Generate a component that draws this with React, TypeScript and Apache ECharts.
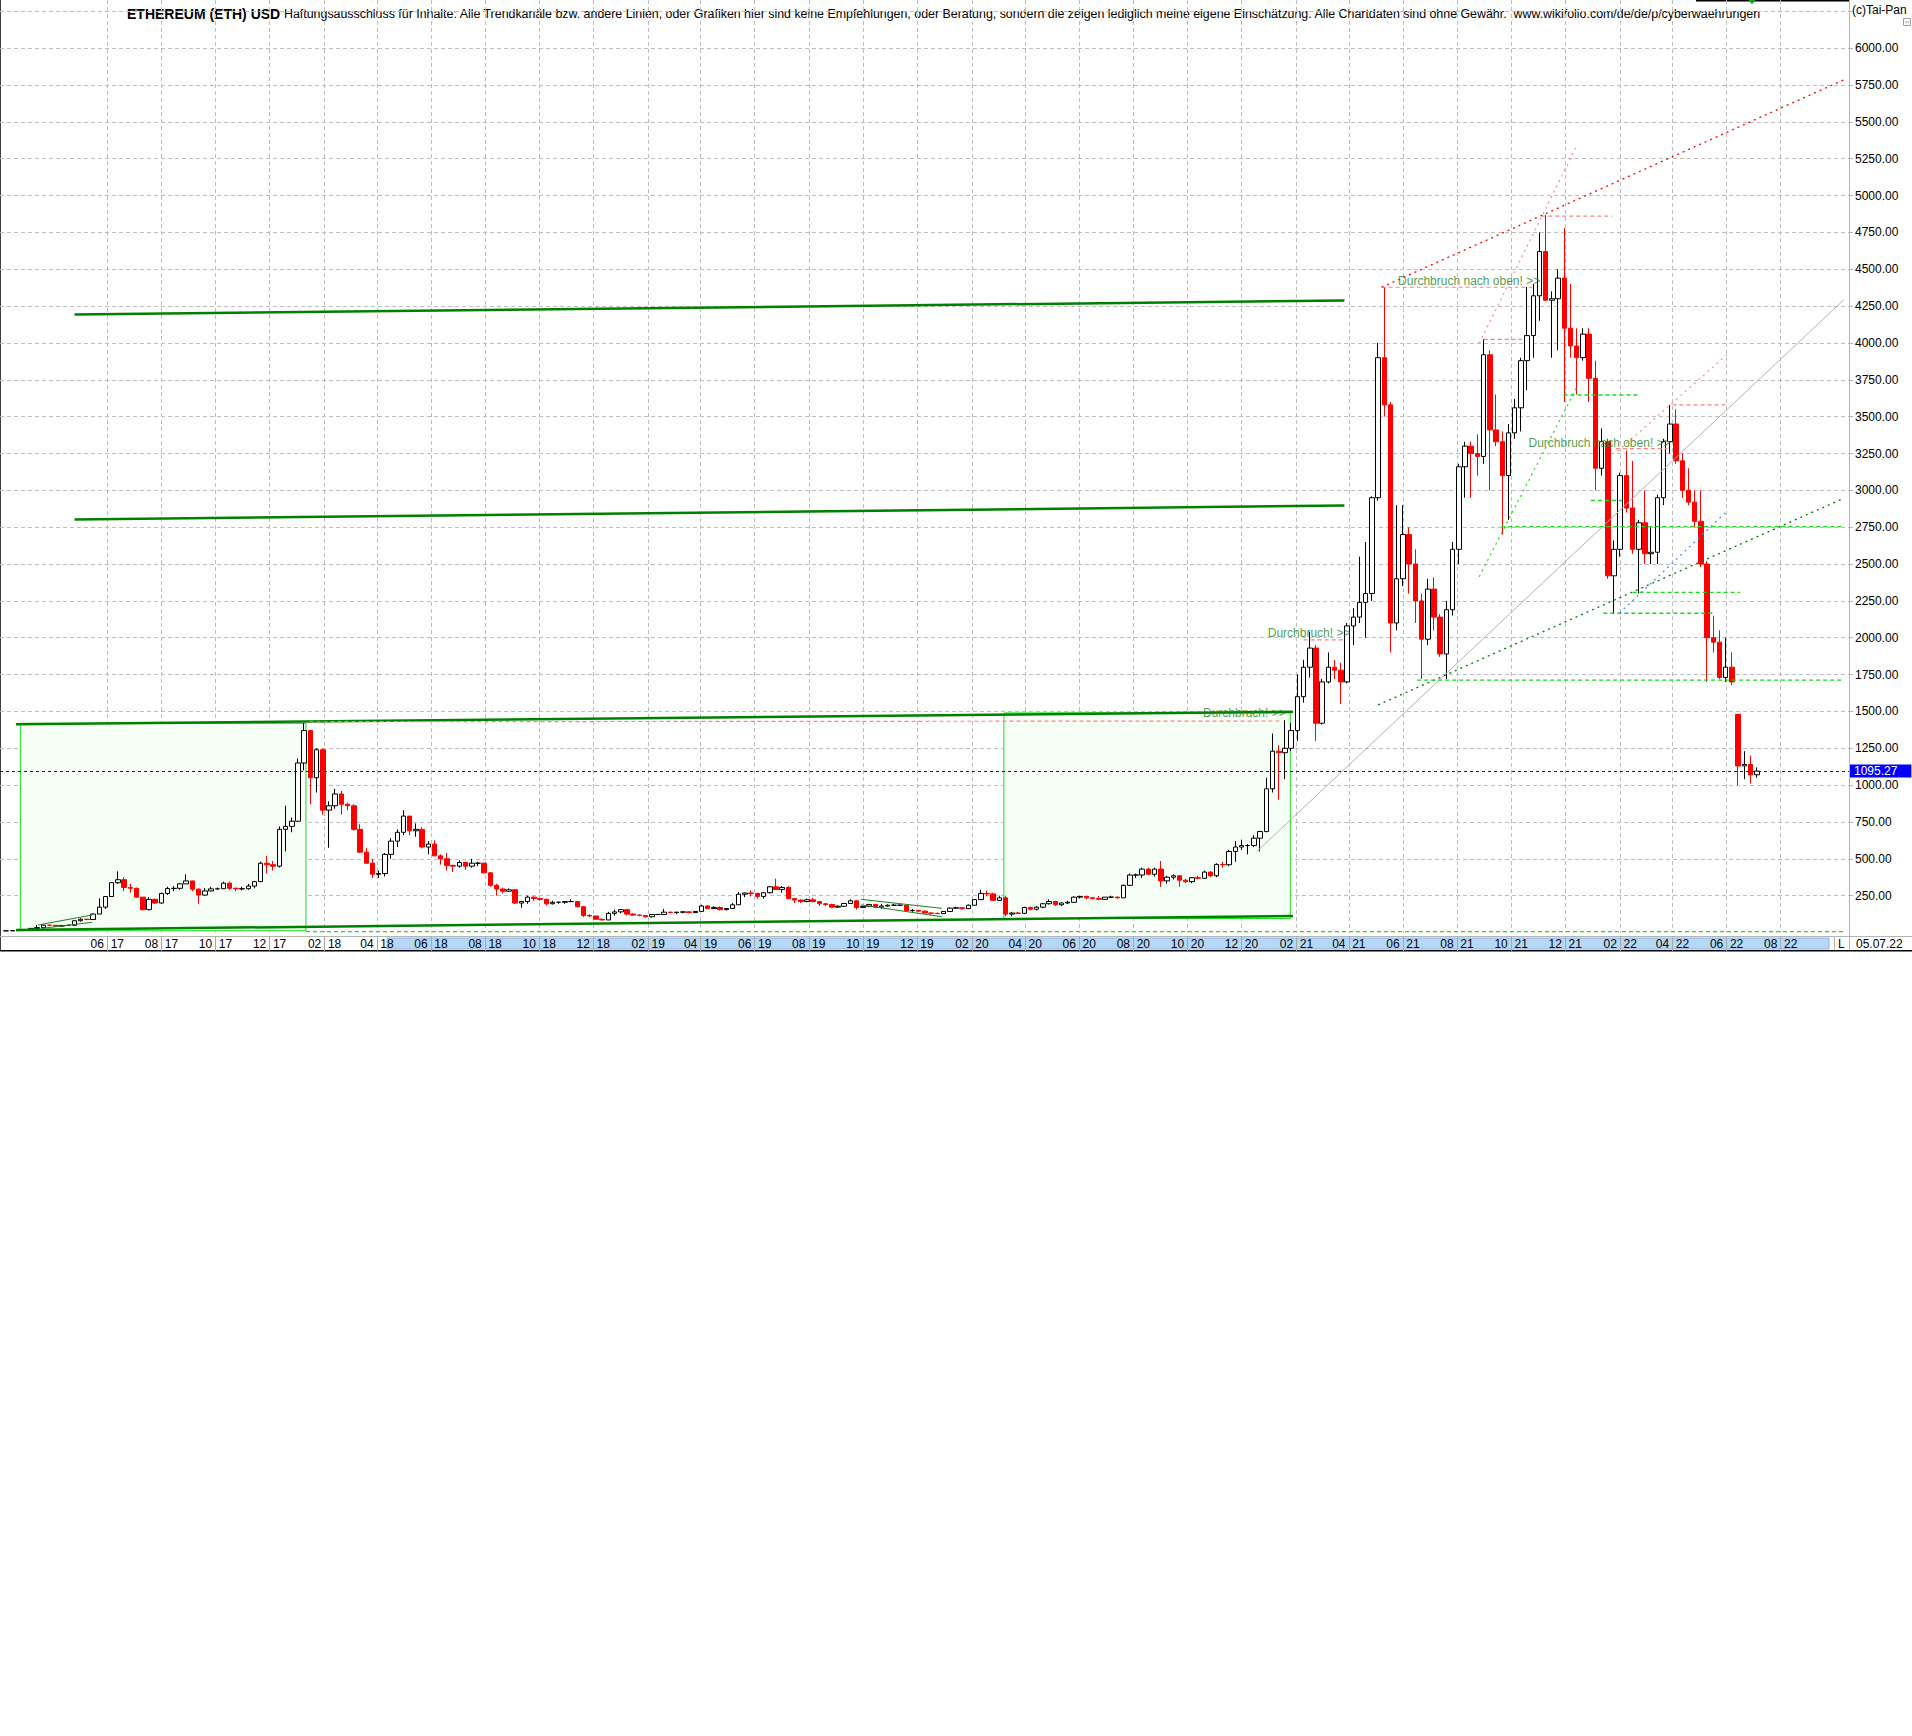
import React, { useEffect, useRef } from 'react';
import * as echarts from 'echarts';

const FONT = '"Liberation Sans", Arial, Helvetica, sans-serif';

// ---------- data ----------
// weekly bars, first bar = week of 2017-02-06 (plotted on its Tuesday), values [open, high, low, close]
const FIRST_BAR = '2017-02-07';

const eth2017 = [
  [11.3, 11.6, 10.7, 11.4], [11.4, 12.9, 11.3, 12.8], [12.8, 15.5, 12.1, 15.0], [15.0, 19.5, 14.9, 19.3],
  [19.3, 28.5, 18.9, 28.0], [28.0, 50.5, 27.5, 33.0], [33.0, 53.0, 31.0, 50.0], [50.0, 52.0, 44.0, 49.0],
  [49.0, 49.5, 42.0, 43.2], [43.2, 50.0, 42.0, 48.0], [48.0, 50.2, 45.0, 49.0], [49.0, 81.0, 48.5, 80.0],
  [80.0, 97.0, 74.0, 90.0], [90.0, 93.0, 84.0, 88.0], [88.0, 130.0, 86.0, 125.0], [125.0, 232.0, 125.0, 172.0],
  [172.0, 248.0, 160.0, 244.0], [244.0, 340.0, 244.0, 338.0], [338.0, 415.0, 330.0, 358.0], [358.0, 375.0, 280.0, 305.0],
  [305.0, 330.0, 270.0, 300.0], [300.0, 305.0, 235.0, 240.0], [240.0, 240.0, 150.0, 155.0], [155.0, 240.0, 150.0, 225.0],
  [225.0, 230.0, 195.0, 200.0], [200.0, 270.0, 195.0, 265.0], [265.0, 310.0, 255.0, 298.0], [298.0, 315.0, 280.0, 300.0],
  [300.0, 335.0, 290.0, 330.0], [330.0, 395.0, 330.0, 350.0], [350.0, 350.0, 280.0, 294.0], [294.0, 300.0, 195.0, 254.0],
  [254.0, 300.0, 250.0, 282.0], [282.0, 310.0, 280.0, 296.0], [296.0, 305.0, 290.0, 297.0], [297.0, 345.0, 295.0, 335.0],
  [335.0, 345.0, 290.0, 300.0], [300.0, 305.0, 280.0, 296.0], [296.0, 310.0, 285.0, 297.0], [297.0, 330.0, 290.0, 315.0],
  [315.0, 350.0, 300.0, 345.0], [345.0, 480.0, 345.0, 470.0], [470.0, 520.0, 400.0, 460.0], [460.0, 485.0, 420.0, 450.0],
  [450.0, 720.0, 440.0, 700.0], [700.0, 860.0, 550.0, 720.0], [720.0, 780.0, 680.0, 755.0],
];
const eth2018 = [
  [755, 1180, 750, 1150], [1150, 1420, 1100, 1370], [1370, 1375, 870, 1050], [1050, 1250, 950, 1240],
  [1240, 1250, 800, 830], [830, 890, 575, 860], [860, 975, 840, 940], [940, 960, 800, 870],
  [870, 880, 830, 860], [860, 870, 690, 700], [700, 735, 540, 545], [545, 575, 470, 470],
  [470, 500, 370, 395], [395, 420, 370, 400], [400, 540, 380, 530], [530, 640, 500, 620],
  [620, 700, 580, 680], [680, 830, 660, 790], [790, 790, 660, 690], [690, 740, 650, 700],
  [700, 715, 570, 580], [580, 620, 530, 600], [600, 625, 520, 520], [520, 530, 460, 500],
  [500, 540, 420, 455], [455, 460, 410, 450], [450, 490, 440, 475], [475, 480, 425, 450],
  [450, 500, 440, 470], [470, 480, 450, 470], [470, 475, 400, 405], [405, 410, 310, 320],
  [320, 330, 250, 295], [295, 305, 265, 280], [280, 300, 275, 290], [290, 295, 195, 200],
  [200, 215, 168, 210], [210, 250, 195, 240], [240, 245, 215, 230], [230, 232, 215, 225],
  [225, 230, 185, 195], [195, 215, 190, 205], [205, 208, 195, 205], [205, 210, 195, 210],
  [210, 225, 205, 210], [210, 215, 170, 175], [175, 180, 105, 115], [115, 125, 105, 112],
  [112, 115, 90, 90], [90, 95, 82, 85], [85, 140, 85, 130], [130, 155, 115, 140],
  [140, 160, 130, 155],
];
const eth2019 = [
  [155, 160, 115, 125], [125, 130, 115, 118], [118, 122, 110, 115], [115, 117, 100, 107],
  [107, 125, 102, 122], [122, 127, 118, 122], [122, 160, 120, 138], [138, 142, 130, 135],
  [135, 140, 125, 138], [138, 142, 130, 140], [140, 145, 130, 135], [135, 145, 132, 143],
  [143, 188, 140, 180], [180, 185, 160, 162], [162, 178, 160, 170], [170, 178, 150, 155],
  [155, 165, 150, 163], [163, 200, 160, 188], [188, 275, 188, 260], [260, 270, 240, 268],
  [268, 285, 245, 265], [265, 270, 230, 245], [245, 275, 230, 270], [270, 315, 265, 310],
  [310, 365, 290, 292], [292, 315, 270, 305], [305, 315, 225, 230], [230, 235, 200, 220],
  [220, 225, 200, 210], [210, 230, 205, 222], [222, 235, 205, 210], [210, 215, 180, 195],
  [195, 200, 180, 190], [190, 195, 165, 172], [172, 185, 168, 178], [178, 200, 175, 197],
  [197, 225, 195, 215], [215, 215, 155, 170], [170, 180, 165, 178], [178, 195, 172, 190],
  [190, 195, 165, 172], [172, 195, 160, 180], [180, 190, 175, 185], [185, 195, 180, 185],
  [185, 190, 180, 185], [185, 185, 140, 148], [148, 160, 140, 150], [150, 152, 140, 145],
  [145, 150, 130, 132], [132, 135, 118, 130], [130, 135, 125, 128], [128, 145, 125, 143],
];
const eth2020 = [
  [143, 170, 140, 165], [165, 175, 160, 168], [168, 170, 155, 162], [162, 190, 160, 185],
  [185, 225, 185, 223], [223, 290, 220, 265], [265, 285, 245, 262], [262, 270, 215, 218],
  [218, 250, 215, 235], [235, 250, 110, 125], [125, 140, 110, 132], [132, 140, 125, 130],
  [130, 175, 125, 170], [170, 175, 150, 158], [158, 180, 150, 172], [172, 200, 165, 195],
  [195, 225, 190, 210], [210, 215, 180, 188], [188, 205, 180, 200], [200, 215, 195, 205],
  [205, 245, 200, 240], [240, 250, 230, 245], [245, 250, 225, 235], [235, 240, 225, 230],
  [230, 248, 220, 225], [225, 240, 220, 240], [240, 250, 235, 240], [240, 245, 230, 235],
  [235, 325, 235, 320], [320, 400, 315, 390], [390, 400, 370, 390], [390, 440, 370, 430],
  [430, 440, 390, 395], [395, 440, 380, 430], [430, 485, 310, 350], [350, 385, 330, 375],
  [375, 395, 360, 385], [385, 390, 310, 355], [355, 365, 335, 345], [345, 375, 335, 372],
  [372, 385, 360, 368], [368, 420, 365, 410], [410, 415, 375, 385], [385, 470, 375, 462],
  [462, 480, 440, 460], [460, 560, 450, 550], [550, 620, 480, 580], [580, 630, 560, 590],
  [590, 600, 530, 590], [590, 660, 580, 640], [640, 690, 550, 685], [685, 1050, 680, 975],
];
const eth2021 = [
  [975, 1350, 950, 1230], [1230, 1270, 900, 1220], [1220, 1440, 1040, 1250], [1250, 1420, 1230, 1370],
  [1370, 1750, 1300, 1600], [1600, 1850, 1560, 1800], [1800, 2040, 1730, 1930], [1930, 1950, 1300, 1420],
  [1420, 1720, 1410, 1700], [1700, 1900, 1690, 1800], [1800, 1850, 1720, 1780], [1780, 1830, 1550, 1700],
  [1700, 2100, 1690, 2080], [2080, 2200, 1950, 2140], [2140, 2550, 2100, 2240], [2240, 2650, 2000, 2300],
  [2300, 2960, 2250, 2950], [2950, 4000, 2930, 3900], [3900, 4380, 3500, 3580], [3580, 3600, 1900, 2100],
  [2100, 2900, 2050, 2400], [2400, 2900, 2350, 2700], [2700, 2750, 2300, 2500], [2500, 2600, 2100, 2250],
  [2250, 2300, 1720, 1990], [1990, 2400, 1950, 2330], [2330, 2410, 2050, 2140], [2140, 2160, 1870, 1890],
  [1890, 2250, 1720, 2190], [2190, 2650, 2150, 2600], [2600, 3180, 2500, 3160], [3160, 3330, 2950, 3300],
  [3300, 3330, 2950, 3250], [3250, 3380, 3100, 3230], [3230, 4025, 3180, 3920], [3920, 3950, 3000, 3410],
  [3410, 3650, 3300, 3330], [3330, 3400, 2700, 3100], [3100, 3450, 2800, 3390], [3390, 3620, 3350, 3560],
  [3560, 3900, 3400, 3880], [3880, 4380, 3680, 4050], [4050, 4400, 3900, 4320], [4320, 4750, 4150, 4620],
  [4620, 4870, 4450, 4290], [4290, 4350, 3900, 4300], [4300, 4500, 3950, 4440], [4440, 4780, 3600, 4100],
  [4100, 4400, 3900, 3980], [3980, 4100, 3650, 3900], [3900, 4100, 3880, 4060], [4060, 4100, 3600, 3760],
];
const eth2022 = [
  [3760, 3880, 3000, 3150], [3150, 3420, 3100, 3330], [3330, 3350, 2400, 2420], [2420, 2660, 2160, 2600],
  [2600, 3120, 2550, 3100], [3100, 3270, 2850, 2880], [2880, 3200, 2570, 2600], [2600, 2800, 2300, 2780],
  [2780, 3000, 2500, 2570], [2570, 2750, 2500, 2580], [2580, 2970, 2500, 2950], [2950, 3350, 2900, 3330],
  [3330, 3580, 3250, 3450], [3450, 3550, 3180, 3200], [3200, 3250, 2950, 3000], [3000, 3150, 2900, 2920],
  [2920, 3000, 2750, 2790], [2790, 3000, 2480, 2500], [2500, 2520, 1700, 2000], [2000, 2150, 1900, 1970],
  [1970, 2050, 1720, 1730], [1730, 2000, 1700, 1800], [1800, 1900, 1680, 1700], [1480, 1480, 1000, 1130],
  [1130, 1230, 1040, 1140], [1140, 1200, 1010, 1070], [1070, 1120, 1050, 1095.27],
];

const LAST_PRICE = 1095.27;
const LAST_DATE_LABEL = '05.07.22';

const monthTicks = [
  '2017-06', '2017-08', '2017-10', '2017-12',
  '2018-02', '2018-04', '2018-06', '2018-08', '2018-10', '2018-12',
  '2019-02', '2019-04', '2019-06', '2019-08', '2019-10', '2019-12',
  '2020-02', '2020-04', '2020-06', '2020-08', '2020-10', '2020-12',
  '2021-02', '2021-04', '2021-06', '2021-08', '2021-10', '2021-12',
  '2022-02', '2022-04', '2022-06', '2022-08',
];
const priceLabels = [250, 500, 750, 1000, 1250, 1500, 1750, 2000, 2250, 2500, 2750, 3000,
  3250, 3500, 3750, 4000, 4250, 4500, 4750, 5000, 5250, 5500, 5750, 6000];

// [fromDate, fromPrice, toDate, toPrice, style]
const trendLines: [string, number, string, number, string][] = [
  ['2017-04-25', 4193, '2021-03-27', 4288, 'channel'],
  ['2017-04-25', 2802, '2021-03-27', 2897, 'channel'],
  ['2017-02-18', 1413, '2021-01-28', 1498, 'channel'],
  ['2017-02-18', 17, '2021-01-28', 112, 'channel'],
  ['2018-01-15', 1430, '2021-01-16', 1435, 'pinkDash'],
  ['2021-02-09', 1985, '2021-03-26', 1985, 'pinkDash'],
  ['2021-05-08', 4378, '2021-10-25', 4378, 'pinkDash'],
  ['2021-08-31', 4025, '2021-10-13', 4025, 'pinkDash'],
  ['2021-11-04', 4860, '2022-01-23', 4860, 'pinkDash'],
  ['2022-01-27', 3283, '2022-03-26', 3283, 'pinkDash'],
  ['2022-04-01', 3580, '2022-05-31', 3580, 'pinkDash'],
  ['2021-08-26', 3998, '2021-12-15', 5350, 'pinkDot'],
  ['2022-01-29', 3265, '2022-06-01', 3918, 'pinkDot'],
  ['2021-05-08', 4378, '2022-10-11', 5785, 'red'],
  ['2020-12-18', 548, '2022-10-11', 4292, 'grey'],
  ['2021-05-04', 1544, '2022-10-11', 2946, 'greenDot'],
  ['2021-06-17', 1712, '2022-10-11', 1712, 'limeDash'],
  ['2021-09-20', 2754, '2022-10-11', 2754, 'limeDash'],
  ['2021-11-29', 3647, '2022-02-23', 3647, 'limeDash'],
  ['2021-12-30', 2931, '2022-02-03', 2931, 'limeDash'],
  ['2022-02-15', 2308, '2022-06-16', 2308, 'limeDash'],
  ['2022-01-13', 2166, '2022-05-17', 2166, 'limeDash'],
  ['2021-08-26', 2414, '2021-12-14', 3700, 'limeDot'],
  ['2022-01-31', 2166, '2022-06-01', 2855, 'blueDot'],
  ['2017-03-15', 51, '2017-05-15', 119, 'thin'],
  ['2017-03-19', 28, '2017-05-15', 69, 'thin'],
  ['2019-09-29', 225, '2019-12-29', 164, 'thin'],
  ['2019-09-29', 187, '2019-12-29', 107, 'thin'],
];
const bottomLine: [string, number, string, number] = ['2018-01-11', 6, '2022-10-11', 6];

// shaded boxes: [fromDate, topPrice, toDate, bottomPrice]
const shadedBoxes: [string, number, string, number][] = [
  ['2017-02-23', 1419, '2018-01-11', 12],
  ['2020-03-08', 1490, '2021-01-25', 95],
];

const notes: [string, number, string][] = [
  ['2021-05-26', 4423, 'Durchbruch nach oben! >>'],
  ['2021-10-20', 3324, 'Durchbruch nach oben! >>'],
  ['2020-12-30', 2030, 'Durchbruch! >>'],
  ['2020-10-18', 1487, 'Durchbruch! >>'],
];

const TITLE = 'ETHEREUM (ETH) USD';
const DISCLAIMER =
  'Haftungsausschluss für Inhalte: Alle Trendkanäle bzw. andere Linien, oder Grafiken hier sind keine Empfehlungen, oder Beratung, sondern die zeigen lediglich meine eigene Einschätzung. Alle Chartdaten sind ohne Gewähr.  www.wikifolio.com/de/de/p/cyberwaehrungen';

// ---------- helpers ----------
const ts = (s: string) => {
  const [y, m, d] = s.split('-').map(Number);
  return new Date(y, m - 1, d || 1).getTime();
};

const AXIS_START = ts('2017-01-31');
const AXIS_END = ts('2022-10-17');

const lineStyles: Record<string, any> = {
  channel: { color: '#008000', width: 2.5, type: 'solid' },
  thin: { color: '#1f801f', width: 1, type: 'solid' },
  red: { color: '#ff0000', width: 1.3, type: [2, 4] },
  pinkDot: { color: '#ff8a8a', width: 1.2, type: [2, 4] },
  pinkDash: { color: '#ff8080', width: 1.2, type: [4, 3] },
  limeDash: { color: '#12e012', width: 1.3, type: [4, 3] },
  limeDot: { color: '#12e012', width: 1.2, type: [2, 4] },
  greenDot: { color: '#007a00', width: 1.3, type: [2, 4] },
  grey: { color: '#b4b4b4', width: 1, type: 'solid' },
  blueDot: { color: '#3a8cff', width: 1.2, type: [2, 4] },
};

function buildOption() {
  const bars = [...eth2017, ...eth2018, ...eth2019, ...eth2020, ...eth2021, ...eth2022];
  const [fy, fm, fd] = FIRST_BAR.split('-').map(Number);
  const candleData = bars.map((b, i) => [
    new Date(fy, fm - 1, fd + 7 * i).getTime(),
    b[0], b[3], b[2], b[1],
  ]);
  const tickValues = monthTicks.map(ts);

  const lineSeries = trendLines.map(([d1, p1, d2, p2, s]) => ({
    type: 'line',
    data: [[ts(d1), p1], [ts(d2), p2]],
    symbol: 'none',
    showSymbol: false,
    silent: true,
    z: 3,
    lineStyle: lineStyles[s],
  }));

  const strip = 936;
  const stripBottom = 951;

  return {
    animation: false,
    backgroundColor: '#ffffff',
    grid: { left: 0, right: 63, top: 0, bottom: 803.5, containLabel: false, outerBoundsMode: 'none' },
    xAxis: {
      type: 'value',
      min: AXIS_START,
      max: AXIS_END,
      offset: 3.5,
      axisLine: { show: true, onZero: false, lineStyle: { color: '#b4b4b4', width: 1 } },
      axisTick: { show: true, customValues: tickValues, length: 15, inside: false, lineStyle: { color: '#a8a8a8' } },
      axisLabel: {
        show: true,
        customValues: tickValues,
        margin: 2,
        color: '#000',
        fontSize: 12,
        fontFamily: FONT,
        formatter: (v: number) => {
          const d = new Date(v);
          const mm = String(d.getMonth() + 1).padStart(2, '0');
          const yy = String(d.getFullYear() % 100).padStart(2, '0');
          return mm + '  ' + yy;
        },
      },
      splitLine: { show: true, lineStyle: { color: '#bdbdbd', width: 1, type: [4, 3] } },
    },
    yAxis: {
      type: 'value',
      position: 'right',
      min: 0,
      max: 6327,
      interval: 250,
      axisLine: { show: true, lineStyle: { color: '#b4b4b4', width: 1 } },
      axisTick: { show: true, length: 4, lineStyle: { color: '#b4b4b4' } },
      axisLabel: {
        show: true,
        margin: 6,
        color: '#000',
        fontSize: 12,
        fontFamily: FONT,
        showMinLabel: false,
        showMaxLabel: false,
        formatter: (v: number) => (priceLabels.indexOf(v) >= 0 ? v.toFixed(2) : ''),
      },
      splitLine: {
        show: true,
        showMinLine: false,
        showMaxLine: false,
        lineStyle: { color: '#bdbdbd', width: 1, type: [4, 3] },
      },
    },
    series: [
      {
        type: 'line',
        data: [[ts(bottomLine[0]), bottomLine[1]], [ts(bottomLine[2]), bottomLine[3]]],
        symbol: 'none',
        showSymbol: false,
        silent: true,
        z: 1,
        lineStyle: lineStyles.limeDash,
        markArea: {
          silent: true,
          itemStyle: { color: '#f5fff5', borderColor: '#1ee01e', borderWidth: 1 },
          data: shadedBoxes.map(([d1, p1, d2, p2]) => [
            { coord: [ts(d1), p1] },
            { coord: [ts(d2), p2] },
          ]),
        },
      },
      {
        type: 'candlestick',
        data: candleData,
        barWidth: 5,
        z: 2,
        silent: true,
        itemStyle: {
          color: '#ffffff',
          color0: '#ff0000',
          borderColor: '#000000',
          borderColor0: '#ff0000',
          borderWidth: 1,
        },
        markLine: {
          silent: true,
          symbol: ['none', 'none'],
          data: [{ yAxis: LAST_PRICE }],
          lineStyle: { color: '#0000ff', width: 1, type: [3, 3] },
          label: {
            show: true,
            position: 'end',
            formatter: LAST_PRICE.toFixed(2),
            color: '#ffffff',
            backgroundColor: '#0000ff',
            padding: [1, 14, 0, 4],
            distance: 1,
            fontSize: 12,
            fontFamily: FONT,
          },
        },
      },
      ...lineSeries,
      {
        type: 'scatter',
        data: notes.map(([d, p, text]) => ({ value: [ts(d), p], name: text })),
        symbolSize: 1,
        itemStyle: { color: 'rgba(0,0,0,0)' },
        silent: true,
        z: 4,
        label: {
          show: true,
          position: 'right',
          distance: 0,
          formatter: '{b}',
          color: '#1d851d',
          fontSize: 12,
          fontFamily: FONT,
        },
      },
    ],
    graphic: [
      { type: 'text', x: 127, y: 14, style: { text: TITLE, font: `bold 14px ${FONT}`, fill: '#000', verticalAlign: 'middle' } },
      { type: 'text', x: 284, y: 14, style: { text: DISCLAIMER, font: `12.4px ${FONT}`, fill: '#000', verticalAlign: 'middle' } },
      { type: 'text', x: 1852, y: 10, style: { text: '(c)Tai-Pan', font: `12px ${FONT}`, fill: '#000', verticalAlign: 'middle' } },
      { type: 'rect', shape: { x: 1903.5, y: 18.5, width: 7, height: 7 }, style: { fill: 'none', stroke: '#a0a0a0', lineWidth: 1 } },
      { type: 'line', shape: { x1: 1905, y1: 22, x2: 1909, y2: 22 }, style: { stroke: '#a0a0a0', lineWidth: 1 } },
      { type: 'rect', shape: { x: 1696, y: 0, width: 153, height: 1.5 }, style: { fill: '#000' } },
      { type: 'polygon', shape: { points: [[1748.5, 0], [1755.5, 0], [1752, 4.5]] }, style: { fill: '#1aa01a' } },
      { type: 'line', shape: { x1: 0.5, y1: 0, x2: 0.5, y2: stripBottom }, style: { stroke: '#404040', lineWidth: 1 } },
      { type: 'rect', z: -10, shape: { x: 387, y: 938, width: 1442, height: 11 }, style: { fill: '#b6d8f6', stroke: '#8cb6e2', lineWidth: 1 } },
      { type: 'line', shape: { x1: 1849, y1: strip + 0.5, x2: 1912, y2: strip + 0.5 }, style: { stroke: '#b4b4b4', lineWidth: 1 } },
      { type: 'line', shape: { x1: 1834.5, y1: strip, x2: 1834.5, y2: stripBottom }, style: { stroke: '#b4b4b4', lineWidth: 1 } },
      { type: 'line', shape: { x1: 1849.5, y1: 932, x2: 1849.5, y2: stripBottom }, style: { stroke: '#b4b4b4', lineWidth: 1 } },
      { type: 'text', x: 1838, y: 944, style: { text: 'L', font: `12px ${FONT}`, fill: '#000', verticalAlign: 'middle' } },
      { type: 'text', x: 1856, y: 944, style: { text: LAST_DATE_LABEL, font: `12px ${FONT}`, fill: '#000', verticalAlign: 'middle' } },
      { type: 'rect', shape: { x: 0, y: 950, width: 1912, height: 1.5 }, style: { fill: '#000' } },
    ],
  };
}

export default function App() {
  const ref = useRef<HTMLDivElement>(null);
  useEffect(() => {
    if (!ref.current) return;
    const chart = echarts.init(ref.current, null, { renderer: 'svg' });
    chart.setOption(buildOption() as any);
    return () => chart.dispose();
  }, []);
  return (
    <div
      ref={ref}
      style={{ position: 'absolute', left: 0, top: 0, width: 1912, height: 1736, background: '#ffffff' }}
    />
  );
}
